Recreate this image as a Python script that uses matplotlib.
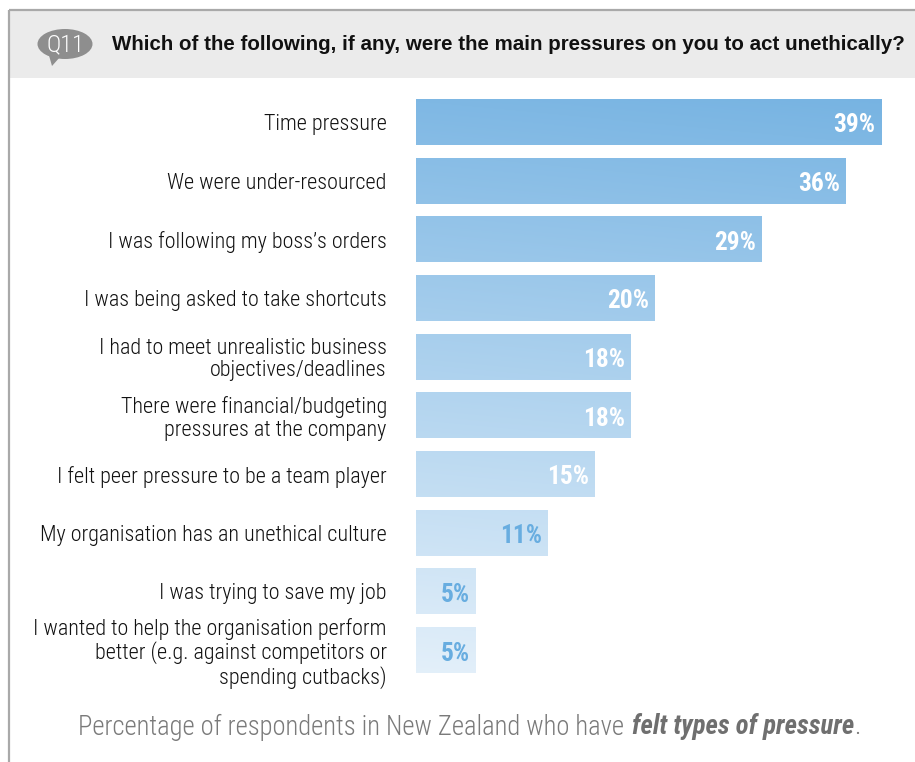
import numpy as np
import matplotlib.pyplot as plt
from matplotlib import font_manager
from matplotlib.font_manager import FontProperties
from matplotlib.patches import Ellipse, Polygon, Rectangle
from matplotlib.colors import to_rgb

# Survey answers (Q11) and share of respondents
categories = [
    "Time pressure",
    "We were under-resourced",
    "I was following my boss\u2019s orders",
    "I was being asked to take shortcuts",
    "I had to meet unrealistic business\nobjectives/deadlines",
    "There were financial/budgeting\npressures at the company",
    "I felt peer pressure to be a team player",
    "My organisation has an unethical culture",
    "I was trying to save my job",
    "I wanted to help the organisation perform\nbetter (e.g. against competitors or\nspending cutbacks)",
]
values = [39, 36, 29, 20, 18, 18, 15, 11, 5, 5]

title = "Which of the following, if any, were the main pressures on you to act unethically?"
footer_plain = "Percentage of respondents in New Zealand who have "
footer_bold = "felt types of pressure"

# prefer a narrow face when one is installed
installed = {(f.name, f.stretch) for f in font_manager.fontManager.ttflist}
names = {n for n, _ in installed}
narrow, stretch = "Roboto", "normal"
for cand in ["Liberation Sans Narrow", "Roboto Condensed", "Open Sans Condensed",
             "Noto Sans Display Condensed"]:
    if cand in names:
        narrow = cand
        break
else:
    if any(n == "DejaVu Sans" and s in ("condensed", "semi-condensed") for n, s in installed):
        narrow, stretch = "DejaVu Sans", "condensed"
plain = "Liberation Sans" if "Liberation Sans" in names else "DejaVu Sans"

W, H = 915, 762
fig = plt.figure(figsize=(W / 100, H / 100), dpi=100)
fig.patch.set_facecolor("white")
renderer = fig.canvas.get_renderer()


def fit_size(text, target_px, size, **kw):
    # font size giving the wanted rendered width
    fp = FontProperties(family=narrow, stretch=stretch, size=size, **kw)
    w, _, _ = renderer.get_text_width_height_descent(text, fp, ismath=False)
    return size * target_px / w


# background layer in pixel coordinates
bg = fig.add_axes([0, 0, 1, 1], zorder=0)
bg.set_xlim(0, W)
bg.set_ylim(H, 0)
bg.axis("off")

bg.add_patch(Rectangle((9, 10), W - 9, 68, facecolor="#ebebeb", edgecolor="none"))
bg.plot([9, W], [10, 10], color="#a9a9a9", lw=1.6, solid_capstyle="butt")
bg.plot([9, 9], [10, H], color="#a9a9a9", lw=1.6, solid_capstyle="butt")

# Q11 speech bubble
bg.add_patch(Ellipse((65, 44), 55, 30, facecolor="#8e8e8e", edgecolor="none"))
bg.add_patch(Polygon([[48, 52], [60, 57], [52, 66]], closed=True,
                     facecolor="#8e8e8e", edgecolor="none"))
bg.text(65, 45, "Q11", color="white", fontsize=fit_size("Q11", 38, 16, weight="light"),
        family=narrow, fontstretch=stretch, fontweight="light",
        ha="center", va="center")
bg.text(112, 44, title, color="#111111", fontsize=14.8, family=plain,
        fontweight="bold", ha="left", va="center")

# bar axes: 0..40 % maps onto x pixels 416..893
px_per_pct = (881 - 416) / 39
left_px, right_px = 416, 416 + 40 * px_per_pct
row_h = 58.67
top_px = 122 - row_h / 2
bot_px = top_px + row_h * len(values)
ax = fig.add_axes([left_px / W, 1 - bot_px / H,
                   (right_px - left_px) / W, (bot_px - top_px) / H], zorder=1)
ax.set_facecolor("none")

y = np.arange(len(values))
bars = ax.barh(y, values, height=0.784, color="none", edgecolor="none")

# shared blue gradient, dark at the top and fading towards the bottom
c_top = np.array(to_rgb("#76b3e2"))
c_bot = np.array(to_rgb("#e4f0fa"))
ny, nx = 200, 60
ty = np.linspace(0, 1, ny)[:, None]
tx = np.linspace(0, 1, nx)[None, :]
t = np.clip(ty * 0.93 + (1 - tx) * 0.07, 0, 1)
grad = c_top[None, None, :] * (1 - t[..., None]) + c_bot[None, None, :] * t[..., None]
for bar in bars:
    im = ax.imshow(grad, extent=(0, 40, len(values) - 0.5, -0.5),
                   aspect="auto", interpolation="bilinear", zorder=1)
    im.set_clip_path(bar)

val_size = min(20, fit_size("39%", 42, 20, weight="bold"))
for i, (bar, v) in enumerate(zip(bars, values)):
    col = "white" if v >= 15 else "#68ade0"
    ax.annotate(f"{v}%", xy=(v, i), xytext=(-4, -2.5), textcoords="offset points",
                ha="right", va="center", color=col, fontsize=val_size,
                family=narrow, fontstretch=stretch, fontweight="bold", zorder=3)

cat_size = min(17, fit_size("I felt peer pressure to be a team player", 330, 16,
                            weight="light"))
ax.set_xlim(0, 40)
ax.set_ylim(len(values) - 0.5, -0.5)
ax.set_yticks(y)
ax.set_yticklabels(categories, family=narrow, fontstretch=stretch,
                   fontweight="light", fontsize=cat_size, color="#111111")
for lbl in ax.get_yticklabels():
    lbl.set_linespacing(1.08)
ax.tick_params(axis="y", length=0, pad=21)
ax.set_xticks([])
for s in ax.spines.values():
    s.set_visible(False)

# footer with a bold italic emphasis, centred as one line
foot_size = fit_size(footer_plain, 555, 17, weight="light")
t1 = bg.text(0, 727, footer_plain, color="#7a7a7a", fontsize=foot_size,
             family=narrow, fontstretch=stretch, fontweight="light",
             ha="left", va="center")
t2 = bg.text(0, 727, footer_bold, color="#6f6f6f", fontsize=foot_size,
             family=narrow, fontstretch=stretch, fontweight="bold",
             fontstyle="italic", ha="left", va="center")
t3 = bg.text(0, 727, ".", color="#7a7a7a", fontsize=foot_size, family=narrow,
             fontstretch=stretch, fontweight="light", ha="left", va="center")
w1 = t1.get_window_extent(renderer).width
w2 = t2.get_window_extent(renderer).width
w3 = t3.get_window_extent(renderer).width
x0 = 468 - (w1 + w2 + w3) / 2
t1.set_x(x0)
t2.set_x(x0 + w1 + 2)
t3.set_x(x0 + w1 + w2 + 2)

fig.savefig("out.png", dpi=100)
